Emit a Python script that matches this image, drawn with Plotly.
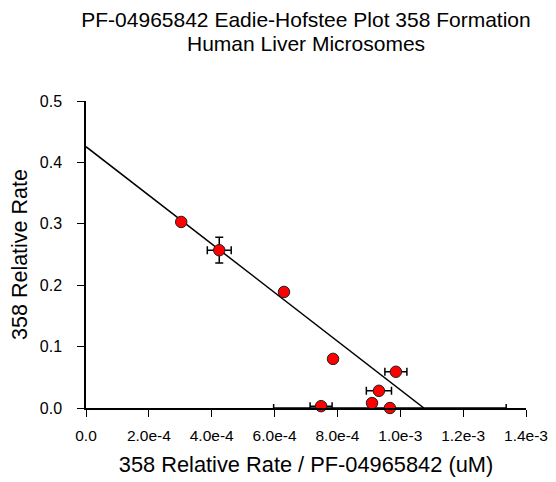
import plotly.graph_objects as go

# Data
x_vals = [3.03e-4, 4.24e-4, 6.3e-4, 7.86e-4, 9.86e-4, 9.32e-4, 9.1e-4, 7.48e-4, 9.67e-4]
y_vals = [0.303, 0.257, 0.189, 0.080, 0.059, 0.028, 0.008, 0.003, 0.0]
x_err = [0.0, 0.38e-4, 0.0, 0.0, 0.35e-4, 0.4e-4, 0.12e-4, 0.35e-4, 3.7e-4]
y_err = [0.0, 0.021, 0.0, 0.0, 0.0, 0.0, 0.0, 0.0, 0.0]

fit_x = [0.0, 1.075e-3]
fit_y = [0.4256, 0.0]

x_tickvals = [0, 2e-4, 4e-4, 6e-4, 8e-4, 1.0e-3, 1.2e-3, 1.4e-3]
x_ticktext = ["0.0", "2.0e-4", "4.0e-4", "6.0e-4", "8.0e-4", "1.0e-3", "1.2e-3", "1.4e-3"]
y_tickvals = [0.0, 0.1, 0.2, 0.3, 0.4, 0.5]

title_line1 = "PF-04965842 Eadie-Hofstee Plot 358 Formation"
title_line2 = "Human Liver Microsomes"

font = "Liberation Sans, Arial, sans-serif"

W, H = 548, 474
L, R, T, B = 77.5, 30, 93, 74
TITLE_SIZE = 21

fig = go.Figure()
fig.add_trace(go.Scatter(
    x=fit_x, y=fit_y, mode="lines",
    line=dict(color="black", width=1.5),
    cliponaxis=False, showlegend=False, hoverinfo="skip"))
fig.add_trace(go.Scatter(
    x=x_vals, y=y_vals, mode="markers",
    marker=dict(size=11.5, color="#ff0000", line=dict(color="#222222", width=1)),
    error_x=dict(type="data", array=x_err, visible=True, color="black", thickness=1.5, width=4),
    error_y=dict(type="data", array=y_err, visible=True, color="black", thickness=1.5, width=4),
    cliponaxis=False, showlegend=False))

fig.update_layout(
    width=W, height=H,
    paper_bgcolor="white", plot_bgcolor="white",
    margin=dict(l=L, r=R, t=T, b=B, autoexpand=False),
    font=dict(family=font, size=15, color="black"),
    title=dict(
        text=title_line1,
        xref="paper", x=0.5, xanchor="center",
        yref="container", y=1 - 12 / H, yanchor="middle",
        font=dict(family=font, size=TITLE_SIZE, color="black"), automargin=False),
    annotations=[dict(
        text=title_line2, showarrow=False,
        xref="paper", x=0.5, xanchor="center",
        yref="paper", y=1 + (T - 35.5) / (H - T - B), yanchor="middle",
        font=dict(family=font, size=TITLE_SIZE, color="black"))],
    xaxis=dict(
        range=[0, 1.4e-3], tickvals=x_tickvals, ticktext=x_ticktext,
        showgrid=False, zeroline=False, showline=True, linecolor="black", linewidth=1.5,
        ticks="outside", ticklen=7, tickwidth=1.2, tickcolor="black",
        tickfont=dict(size=15.5), ticklabelstandoff=6, automargin=False,
        title=dict(text="358 Relative Rate / PF-04965842 (uM)", font=dict(size=21.8), standoff=13)),
    yaxis=dict(
        range=[0, 0.5], tickvals=y_tickvals, tickformat=".1f",
        showgrid=False, zeroline=False, showline=True, linecolor="black", linewidth=1.5,
        ticks="outside", ticklen=7, tickwidth=1.2, tickcolor="black",
        tickfont=dict(size=16), ticklabelstandoff=12, automargin=False,
        title=dict(text="358 Relative Rate", font=dict(size=21.5), standoff=8)),
)

fig.write_html("out.html")
